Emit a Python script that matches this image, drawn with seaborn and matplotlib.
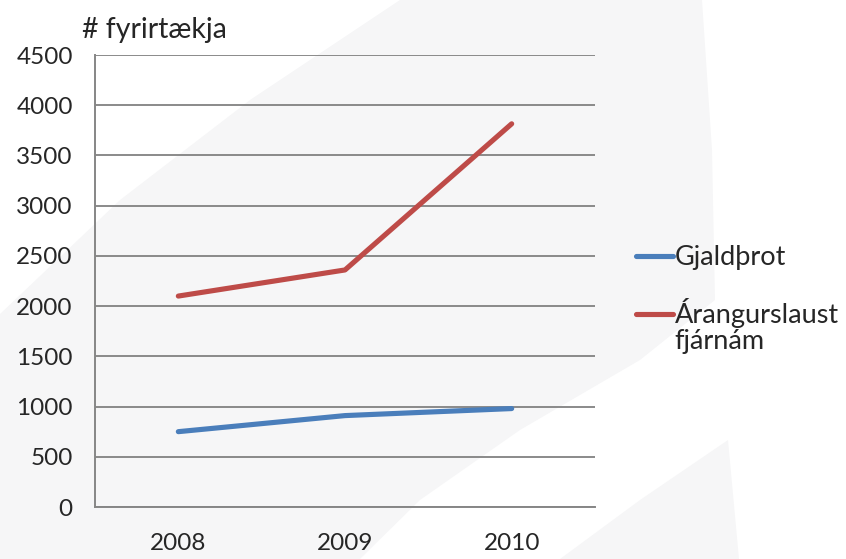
import matplotlib
matplotlib.use("Agg")
import matplotlib.pyplot as plt
import matplotlib.patches as mpatches
import seaborn as sns
import pandas as pd

# Data
years = ["2008", "2009", "2010"]
gjaldthrot = [750, 910, 980]
arangurslaust = [2100, 2360, 3815]
series_names = ["Gjaldþrot", "Árangurslaust"]
y_ticks = [0, 500, 1000, 1500, 2000, 2500, 3000, 3500, 4000, 4500]

df = pd.DataFrame({
    "Ár": list(range(len(years))) * 2,
    "Fjöldi": gjaldthrot + arangurslaust,
    "Flokkur": [series_names[0]] * 3 + [series_names[1]] * 3,
})

sns.set_style("white")
plt.rcParams["font.family"] = ["Lato", "DejaVu Sans"]

W, H = 846, 559
fig = plt.figure(figsize=(W / 100, H / 100), dpi=100)
fig.patch.set_facecolor("white")

def px(x, y):
    return (x / W, 1 - y / H)

# faint background watermark
bg = fig.add_axes([0, 0, 1, 1], zorder=-10)
bg.set_xlim(0, 1)
bg.set_ylim(0, 1)
bg.axis("off")
grey = "#f6f6f7"
bg.add_patch(mpatches.Polygon([px(*p) for p in [
    (400, 0), (702, 0), (712, 150), (715, 300), (640, 360), (520, 430),
    (420, 500), (360, 559), (0, 559), (0, 314), (120, 200), (250, 100)]],
    closed=True, color=grey, lw=0))
bg.add_patch(mpatches.Polygon([px(*p) for p in [
    (560, 559), (640, 500), (728, 440), (739, 559)]],
    closed=True, color=grey, lw=0))

ax = fig.add_axes([95 / W, 1 - 507 / H, 500 / W, 452 / H])
ax.patch.set_alpha(0)

sns.lineplot(data=df, x="Ár", y="Fjöldi", hue="Flokkur",
             palette=["#4a7ebb", "#be4b48"], linewidth=3.7,
             solid_capstyle="round", ax=ax)

ax.set_xlim(-0.5, 2.5)
ax.set_ylim(0, 4500)
ax.set_yticks(y_ticks)
ax.set_xticks(range(len(years)))
ax.set_xticklabels(years)
ax.set_xticks([-0.5, 0.5, 1.5, 2.5], minor=True)
ax.tick_params(axis="x", which="major", length=0, pad=19, labelsize=17.5)
ax.tick_params(axis="x", which="minor", length=7, width=1.2, color="#868686", direction="out")
ax.tick_params(axis="y", length=5, width=1.2, color="#868686", labelsize=17.5, pad=11)
ax.yaxis.grid(True, color="#8a8a8a", linewidth=1.4)
ax.set_axisbelow(True)
for side in ["top", "right"]:
    ax.spines[side].set_visible(False)
for side in ["left", "bottom"]:
    ax.spines[side].set_color("#868686")
    ax.spines[side].set_linewidth(1.4)

ax.set_xlabel("")
ax.set_ylabel("")
fig.text(*px(82, 30), "# fyrirtækja", fontsize=20.5, va="center", ha="left")

leg = ax.legend(loc="upper left", bbox_to_anchor=px(636, 245),
                bbox_transform=fig.transFigure, frameon=False,
                fontsize=19.5, handlelength=1.35, handletextpad=0.08,
                labelspacing=1.05, borderpad=0, borderaxespad=0)
for line in leg.get_lines():
    line.set_linewidth(3.7)
    line.set_solid_capstyle("round")
fig.text(*px(674, 341), "fjárnám", fontsize=19.5, va="center", ha="left")

fig.savefig("out.png", dpi=100)
